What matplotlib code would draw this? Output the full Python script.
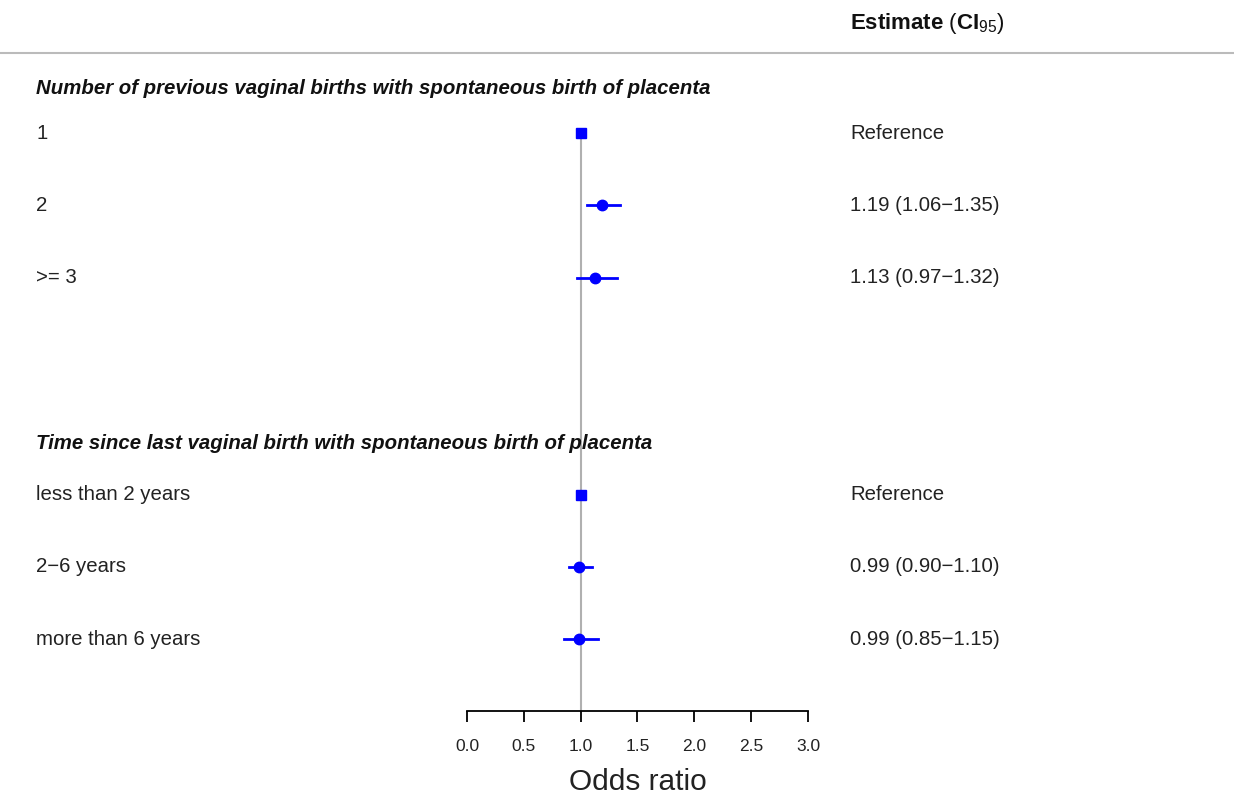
import numpy as np
import matplotlib
matplotlib.use("Agg")
import matplotlib.pyplot as plt

plt.rcParams['font.family'] = ['Liberation Sans', 'DejaVu Sans']
plt.rcParams['mathtext.fontset'] = 'custom'
plt.rcParams['mathtext.rm'] = 'Liberation Sans'
plt.rcParams['mathtext.bf'] = 'Liberation Sans:bold'

# data
group_titles = ['Number of previous vaginal births with spontaneous birth of placenta',
                'Time since last vaginal birth with spontaneous birth of placenta']
row_labels = ['1', '2', '>= 3', 'less than 2 years', '2\u22126 years', 'more than 6 years']
estimate = [1.00, 1.19, 1.13, 1.00, 0.99, 0.99]
lower = [np.nan, 1.06, 0.97, np.nan, 0.90, 0.85]
upper = [np.nan, 1.35, 1.32, np.nan, 1.10, 1.15]
is_reference = [True, False, False, True, False, False]
estimate_text = ['Reference', '1.19 (1.06\u22121.35)', '1.13 (0.97\u22121.32)',
                 'Reference', '0.99 (0.90\u22121.10)', '0.99 (0.85\u22121.15)']

# layout (row units)
row_pos = [0, 1, 2, 5, 6, 7]
title_pos = [-0.62, 4.29]
axis_y = 8
blue = '#0000FF'
fs = 14.7

fig = plt.figure(figsize=(12.34, 7.96), dpi=100)
ax = fig.add_axes([0, 0, 1, 1])
ax.set_xlim(-4.108, 6.748)
ax.set_ylim(9.17, -1.84)

for s in ['top', 'left', 'right']:
    ax.spines[s].set_visible(False)
ax.spines['bottom'].set_position(('data', axis_y))
ax.spines['bottom'].set_bounds(0, 3)
ax.spines['bottom'].set_linewidth(1.3)
ax.set_yticks([])
ax.set_xticks(np.arange(0, 3.01, 0.5))
ax.set_xticklabels([f'{v:.1f}' for v in np.arange(0, 3.01, 0.5)])
ax.tick_params(axis='x', direction='out', length=8, width=1.3, pad=12,
               labelsize=12.5, colors='black', labelcolor='#222222')

# reference line
ax.plot([1, 1], [row_pos[0], axis_y], color='#B0B0B0', lw=1.5, zorder=1)

# header
ax.axhline(-1.107, color='#BBBBBB', lw=1.5)
ax.text(3.37, -1.52, r'$\mathbf{Estimate}$ ($\mathbf{CI}_{95}$)', fontsize=16,
        va='center', ha='left', color='#111111')

for t, y in zip(group_titles, title_pos):
    ax.text(-3.79, y, t, fontsize=fs, fontweight='bold', fontstyle='italic',
            va='center', ha='left', color='#111111')

for i, y in enumerate(row_pos):
    ax.text(-3.79, y, row_labels[i], fontsize=fs, va='center', ha='left', color='#222222')
    ax.text(3.37, y, estimate_text[i], fontsize=fs, va='center', ha='left', color='#222222')
    if is_reference[i]:
        ax.plot(estimate[i], y, marker='s', ms=7.5, color=blue, zorder=3)
    else:
        ax.plot([lower[i], upper[i]], [y, y], color=blue, lw=2, zorder=2)
        ax.plot(estimate[i], y, marker='o', ms=7.5, color=blue, zorder=3)

ax.text(1.5, 8.98, 'Odds ratio', fontsize=21.5, ha='center', va='center', color='#222222')

fig.savefig('out.png', dpi=100)
